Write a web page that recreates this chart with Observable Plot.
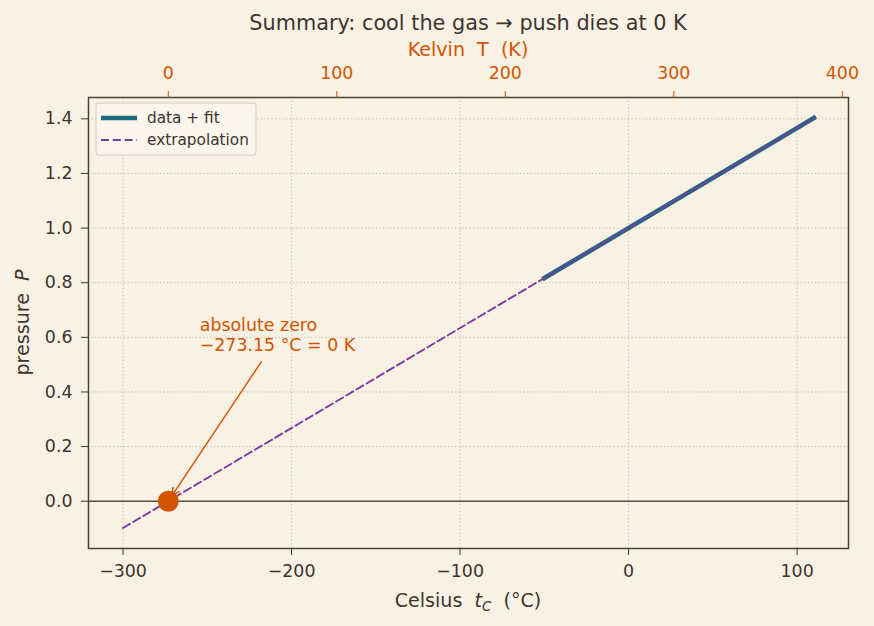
<!DOCTYPE html>
<html>
<head>
<meta charset="utf-8">
<script src="https://cdn.jsdelivr.net/npm/d3@7"></script>
<script src="https://cdn.jsdelivr.net/npm/@observablehq/plot@0.6"></script>
<style>
  html, body { margin: 0; padding: 0; background: #f9f2e4; }
  svg text { white-space: pre; }
</style>
</head>
<body>
<div id="chart"></div>
<script>
// Tick values for the three axes
const celsiusTicks = [-300, -200, -100, 0, 100];
const kelvinTicks = [0, 100, 200, 300, 400];
const pressureTicks = [0, 0.2, 0.4, 0.6, 0.8, 1.0, 1.2, 1.4];

// Measured range with its linear fit (°C → P)
const fitC = [-50, 110];
const fitP = [0.817, 1.403];

// Straight-line extrapolation of the fit down to −300 °C
const extrapC = [-300, 110];
const extrapP = [-0.098, 1.403];

// Absolute zero
const zeroC = [-273.15];
const zeroP = [0];

// Annotation: text anchor and arrow tail
const noteLines = ["absolute zero\n−273.15 °C = 0 K"];
const noteTextC = [-254.5];
const noteTextP = [0.679];
const arrowFromC = [-218];
const arrowFromP = [0.51];

const ORANGE = "#d35400";
const TEAL = "#1d6a7e";
const PURPLE = "#7b3c9e";
const INK = "#3d3530";
const GRID = "#b9af9f";
const BG = "#f9f2e4";

const W = 874, H = 626;
const M = {top: 97, right: 26, bottom: 78, left: 88};

// 5% padding around the plotted lines
const xMin = d3.min(extrapC), xMax = d3.max(extrapC);
const yMin = d3.min(extrapP), yMax = d3.max(extrapP);
const xPad = 0.05 * (xMax - xMin), yPad = 0.05 * (yMax - yMin);

const fitRows = fitC.map((c, i) => ({c, p: fitP[i]}));
const extrapRows = extrapC.map((c, i) => ({c, p: extrapP[i]}));
const zeroRows = zeroC.map((c, i) => ({c, p: zeroP[i]}));
const noteRows = noteLines.map((t, i) => ({t, c: noteTextC[i], p: noteTextP[i]}));
const arrowRows = arrowFromC.map((c, i) => ({c1: c, p1: arrowFromP[i], c2: zeroC[i], p2: zeroP[i]}));

const plot = Plot.plot({
  width: W,
  height: H,
  marginTop: M.top,
  marginRight: M.right,
  marginBottom: M.bottom,
  marginLeft: M.left,
  style: {background: BG, color: INK, fontFamily: "DejaVu Sans", fontSize: "17.4px"},
  x: {domain: [xMin - xPad, xMax + xPad]},
  y: {domain: [yMin - yPad, yMax + yPad]},
  marks: [
    Plot.gridX(celsiusTicks, {stroke: GRID, strokeOpacity: 1, strokeWidth: 1, strokeDasharray: "1,2.6"}),
    Plot.gridY(pressureTicks, {stroke: GRID, strokeOpacity: 1, strokeWidth: 1, strokeDasharray: "1,2.6"}),
    Plot.ruleY([0], {stroke: "#5a4d42", strokeWidth: 1.6}),
    Plot.line(fitRows, {x: "c", y: "p", stroke: TEAL, strokeWidth: 4.6, strokeLinecap: "square"}),
    Plot.line(extrapRows, {x: "c", y: "p", stroke: PURPLE, strokeWidth: 1.9, strokeDasharray: "8,3.8"}),
    Plot.arrow(arrowRows, {x1: "c1", y1: "p1", x2: "c2", y2: "p2", stroke: ORANGE, strokeWidth: 1.5, insetEnd: 7, headLength: 8, headAngle: 55}),
    Plot.dot(zeroRows, {x: "c", y: "p", r: 10.5, fill: ORANGE, stroke: "none"}),
    Plot.text(noteRows, {x: "c", y: "p", text: "t", textAnchor: "start", lineAnchor: "top", lineHeight: 1.2, fill: ORANGE, fontSize: 17.4}),
    Plot.frame({stroke: "#4d4136", strokeWidth: 1.5}),
    Plot.axisX(celsiusTicks, {anchor: "bottom", tickFormat: d3.format("d"), tickSize: 7, tickPadding: 9, color: INK, label: null, fontSize: 17.4}),
    Plot.axisX(kelvinTicks.map(k => k - 273.15), {anchor: "top", tickFormat: d => d3.format("d")(Math.round(d + 273.15)), tickSize: 7, tickPadding: 12, color: ORANGE, label: null, fontSize: 17.4}),
    Plot.axisY(pressureTicks, {anchor: "left", tickFormat: d3.format(".1f"), tickSize: 7, tickPadding: 9, color: INK, label: null, fontSize: 17.4})
  ]
});

document.getElementById("chart").appendChild(plot);

// Titles and axis labels
const svg = d3.select(plot);
const cx = M.left + (W - M.left - M.right) / 2;
const cy = M.top + (H - M.top - M.bottom) / 2;

svg.append("text")
  .attr("x", cx).attr("y", 30)
  .attr("text-anchor", "middle")
  .attr("fill", INK)
  .attr("font-size", 20.8)
  .text("Summary: cool the gas → push dies at 0 K");

svg.append("text")
  .attr("x", cx).attr("y", 56)
  .attr("text-anchor", "middle")
  .attr("fill", ORANGE)
  .attr("font-size", 19.1)
  .text("Kelvin  T  (K)");

const xl = svg.append("text")
  .attr("x", cx).attr("y", 607)
  .attr("text-anchor", "middle")
  .attr("fill", INK)
  .attr("font-size", 19.1);
xl.append("tspan").text("Celsius  ");
xl.append("tspan").attr("font-style", "italic").text("t");
xl.append("tspan").attr("font-style", "italic").attr("font-size", 13.4).attr("dy", 3.5).text("C");
xl.append("tspan").attr("dy", -3.5).text("  (°C)");

const yl = svg.append("text")
  .attr("transform", `translate(22,${cy}) rotate(-90)`)
  .attr("text-anchor", "middle")
  .attr("dy", "0.35em")
  .attr("fill", INK)
  .attr("font-size", 19.1);
yl.append("tspan").text("pressure  ");
yl.append("tspan").attr("font-style", "italic").text("P");

// Legend
const lg = svg.append("g").attr("transform", "translate(96,103)");
lg.append("rect")
  .attr("width", 160).attr("height", 52).attr("rx", 3)
  .attr("fill", "#fbf6ec").attr("fill-opacity", 0.85)
  .attr("stroke", "#d2cbbf").attr("stroke-width", 1);
lg.append("line").attr("x1", 5).attr("x2", 41).attr("y1", 15).attr("y2", 15)
  .attr("stroke", TEAL).attr("stroke-width", 4.6);
lg.append("text").attr("x", 51).attr("y", 15).attr("dy", "0.35em")
  .attr("text-anchor", "start")
  .attr("fill", INK).attr("font-size", 15.3).text("data + fit");
lg.append("line").attr("x1", 5).attr("x2", 41).attr("y1", 37).attr("y2", 37)
  .attr("stroke", PURPLE).attr("stroke-width", 1.9).attr("stroke-dasharray", "8,3.8");
lg.append("text").attr("x", 51).attr("y", 37).attr("dy", "0.35em")
  .attr("text-anchor", "start")
  .attr("fill", INK).attr("font-size", 15.3).text("extrapolation");
</script>
</body>
</html>
